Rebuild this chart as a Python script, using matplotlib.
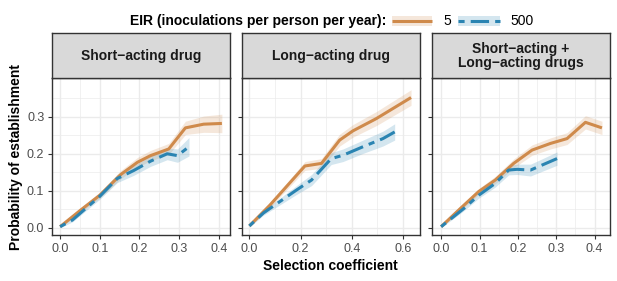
import matplotlib.pyplot as plt
from matplotlib.patches import Rectangle
from matplotlib.lines import Line2D

plt.rcParams['font.family'] = ['Liberation Sans', 'DejaVu Sans']

# Datos
panels = ["Short\u2212acting drug", "Long\u2212acting drug",
          "Short\u2212acting +\nLong\u2212acting drugs"]

# panel 1: short-acting
s1_lo = [0.0, 0.052, 0.10, 0.153, 0.195, 0.228, 0.274, 0.316, 0.362, 0.408]
p1_lo = [0.003, 0.048, 0.088, 0.144, 0.177, 0.195, 0.213, 0.270, 0.280, 0.282]
e1_lo = [0.003, 0.006, 0.008, 0.011, 0.013, 0.014, 0.015, 0.018, 0.022, 0.025]
s1_hi = [0.0, 0.031, 0.10, 0.144, 0.186, 0.228, 0.270, 0.296, 0.325]
p1_hi = [0.003, 0.021, 0.085, 0.133, 0.155, 0.180, 0.200, 0.195, 0.219]
e1_hi = [0.003, 0.005, 0.008, 0.011, 0.013, 0.014, 0.016, 0.018, 0.025]

# panel 2: long-acting
s2_lo = [0.0, 0.08, 0.217, 0.282, 0.353, 0.405, 0.496, 0.632]
p2_lo = [0.005, 0.061, 0.167, 0.174, 0.237, 0.262, 0.295, 0.352]
e2_lo = [0.003, 0.007, 0.012, 0.013, 0.016, 0.017, 0.019, 0.021]
s2_hi = [0.0, 0.055, 0.184, 0.243, 0.32, 0.366, 0.444, 0.522, 0.568]
p2_hi = [0.005, 0.040, 0.102, 0.129, 0.187, 0.196, 0.219, 0.241, 0.259]
e2_hi = [0.003, 0.006, 0.012, 0.015, 0.016, 0.017, 0.018, 0.020, 0.022]

# panel 3: combinacion
s3_lo = [0.0, 0.05, 0.098, 0.141, 0.189, 0.237, 0.285, 0.328, 0.376, 0.419]
p3_lo = [0.003, 0.052, 0.098, 0.129, 0.174, 0.210, 0.228, 0.241, 0.285, 0.270]
e3_lo = [0.003, 0.006, 0.008, 0.010, 0.012, 0.014, 0.015, 0.016, 0.018, 0.018]
s3_hi = [0.0, 0.059, 0.098, 0.141, 0.176, 0.198, 0.233, 0.302]
p3_hi = [0.003, 0.052, 0.088, 0.120, 0.156, 0.158, 0.156, 0.187]
e3_hi = [0.003, 0.006, 0.008, 0.010, 0.013, 0.014, 0.016, 0.018]

datos = [
    (s1_lo, p1_lo, e1_lo, s1_hi, p1_hi, e1_hi),
    (s2_lo, p2_lo, e2_lo, s2_hi, p2_hi, e2_hi),
    (s3_lo, p3_lo, e3_lo, s3_hi, p3_hi, e3_hi),
]
xlims = [(-0.0205, 0.4285), (-0.03, 0.667), (-0.023, 0.44)]
xticks = [[0, 0.1, 0.2, 0.3, 0.4], [0, 0.2, 0.4, 0.6], [0, 0.1, 0.2, 0.3, 0.4]]
xminor = [[0.05, 0.15, 0.25, 0.35], [0.1, 0.3, 0.5], [0.05, 0.15, 0.25, 0.35]]

naranja = '#CF8A4B'
azul = '#2A84B2'
lw = 2.2
twodash = (2, 2, 6, 2)

W, H = 617, 281
fig = plt.figure(figsize=(W / 100, H / 100), dpi=100)

lefts = [52, 241.7, 432.3]
anchos = [178, 178.3, 177.7]
top_px, bot_px, strip_top = 78.3, 235, 33.3

for i in range(3):
    sl, pl, el, sh, ph, eh = datos[i]
    ax = fig.add_axes([lefts[i] / W, 1 - bot_px / H, anchos[i] / W, (bot_px - top_px) / H])
    ax.fill_between(sl, [p - e for p, e in zip(pl, el)], [p + e for p, e in zip(pl, el)],
                    color=naranja, alpha=0.2, lw=0)
    ax.fill_between(sh, [p - e for p, e in zip(ph, eh)], [p + e for p, e in zip(ph, eh)],
                    color=azul, alpha=0.2, lw=0)
    ax.plot(sl, pl, color=naranja, lw=lw, solid_capstyle='butt')
    ax.plot(sh, ph, color=azul, lw=lw, dashes=twodash, dash_capstyle='butt')
    ax.set_xlim(xlims[i])
    ax.set_ylim(-0.0195, 0.404)
    ax.set_xticks(xticks[i])
    ax.set_xticks(xminor[i], minor=True)
    ax.set_xticklabels(['%.1f' % v for v in xticks[i]])
    ax.set_yticks([0, 0.1, 0.2, 0.3])
    ax.set_yticks([0.05, 0.15, 0.25, 0.35], minor=True)
    if i == 0:
        ax.set_yticklabels(['0.0', '0.1', '0.2', '0.3'])
        ax.set_ylabel('Probability of establishment', fontsize=10, fontweight='bold', labelpad=3)
    else:
        ax.set_yticklabels([])
    if i == 1:
        ax.set_xlabel('Selection coefficient', fontsize=10, fontweight='bold', labelpad=3.5)
    ax.grid(True, which='major', color='#EBEBEB', lw=1.0)
    ax.grid(True, which='minor', color='#EBEBEB', lw=0.5)
    ax.set_axisbelow(True)
    ax.tick_params(which='major', length=3, width=0.8, color='#333333', labelsize=9,
                   labelcolor='#4D4D4D', pad=2.5)
    ax.tick_params(which='minor', length=0)
    for sp in ax.spines.values():
        sp.set_color('#333333')
        sp.set_linewidth(1.0)

    st = fig.add_axes([lefts[i] / W, 1 - top_px / H, anchos[i] / W, (top_px - strip_top) / H])
    st.set_facecolor('#D9D9D9')
    st.set_xticks([])
    st.set_yticks([])
    for sp in st.spines.values():
        sp.set_color('#333333')
        sp.set_linewidth(1.0)
    st.text(0.5, 0.5, panels[i], ha='center', va='center', fontsize=10, fontweight='bold',
            color='#1A1A1A', linespacing=1.0, transform=st.transAxes)

# Leyenda manual
ly = 1 - 21 / H
fig.text(386 / W, ly, 'EIR (inoculations per person per year):', ha='right', va='center',
         fontsize=10, fontweight='bold')
for x0, x1, col, estilo, etiqueta, xt in [(392, 432, naranja, None, '5', 443),
                                          (458, 500, azul, twodash, '500', 510)]:
    fig.patches.append(Rectangle((x0 / W, 1 - 26 / H), (x1 - x0) / W, 10 / H,
                                 transform=fig.transFigure, color=col, alpha=0.2, lw=0))
    ln = Line2D([x0 / W, x1 / W], [ly, ly], transform=fig.transFigure, color=col, lw=lw,
                solid_capstyle='butt', dash_capstyle='butt')
    if estilo:
        ln.set_dashes(estilo)
    fig.lines.append(ln)
    fig.text(xt / W, ly, etiqueta, ha='left', va='center', fontsize=10)

fig.savefig('out.png', dpi=100)
